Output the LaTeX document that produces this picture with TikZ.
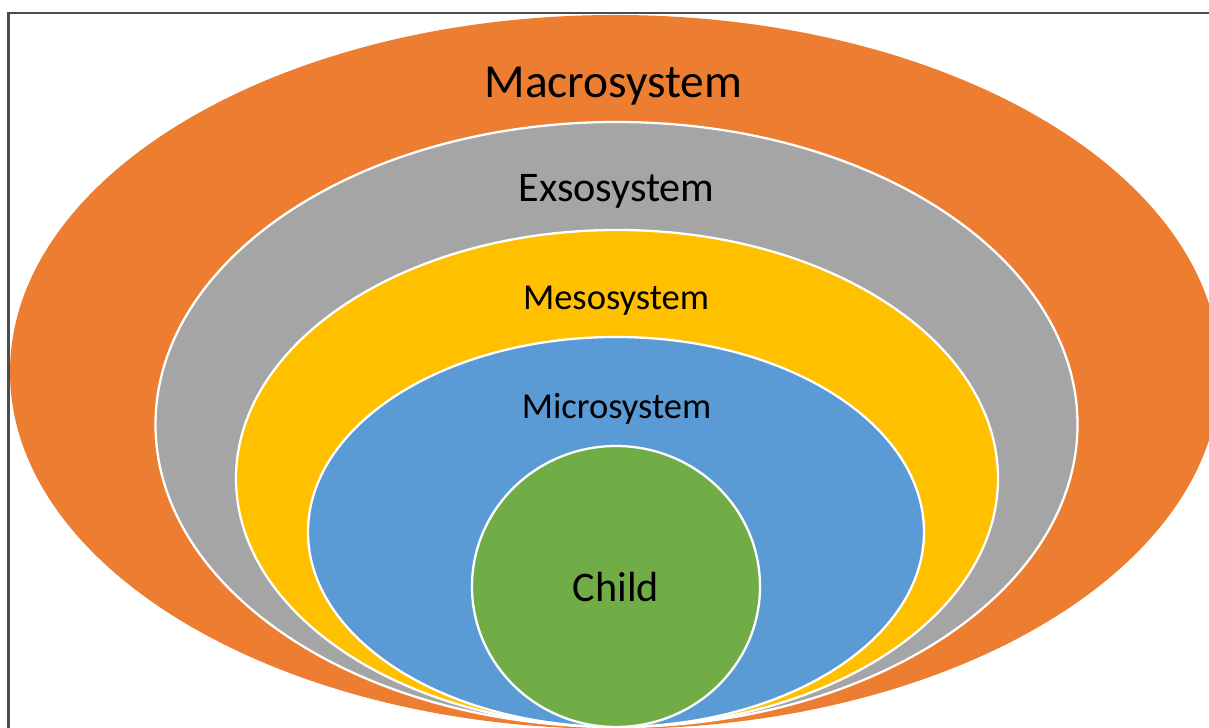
\documentclass[tikz,border=0pt]{standalone}
\usepackage{fontspec}
\setmainfont{Carlito}
\definecolor{macroorange}{HTML}{ED7D31}
\definecolor{exogray}{HTML}{A5A5A5}
\definecolor{mesoyellow}{HTML}{FFC000}
\definecolor{microblue}{HTML}{5B9BD5}
\definecolor{childgreen}{HTML}{70AD47}
\tikzset{
  ring/.style={draw=white, line width=0.65pt},
  label/.style={anchor=base, inner sep=0pt, text=black}
}
\begin{document}
\begin{tikzpicture}
    \useasboundingbox (0,0) rectangle (12.09,7.28);
    % frame
    \draw[black!70, line width=0.6pt] (0.085,0) -- (0.085,7.15) -- (12.09,7.15);

    % nested systems
    \fill[macroorange] (6.15,3.56) ellipse (6.05 and 3.57);
    \draw[ring, fill=exogray] (6.165,3.035) ellipse (4.61 and 3.025);
    \draw[ring, fill=mesoyellow] (6.17,2.495) ellipse (3.81 and 2.485);
    \draw[ring, fill=microblue] (6.16,1.96) ellipse (3.08 and 1.95);
    \draw[ring, fill=childgreen] (6.16,1.415) ellipse (1.44 and 1.405);

    % names
    \node[label, font=\fontsize{13.5}{16}\selectfont] (macro) at (6.135,6.30) {Macrosystem};
    \node[label, font=\fontsize{12}{14}\selectfont] (exo) at (6.165,5.26) {Exsosystem};
    \node[label, font=\fontsize{10.4}{12}\selectfont] (meso) at (6.16,4.18) {Mesosystem};
    \node[label, font=\fontsize{10.4}{12}\selectfont] (micro) at (6.165,3.09) {Microsystem};
    \node[label, font=\fontsize{12}{14}\selectfont] (child) at (6.16,1.26) {Child};
\end{tikzpicture}
\end{document}
